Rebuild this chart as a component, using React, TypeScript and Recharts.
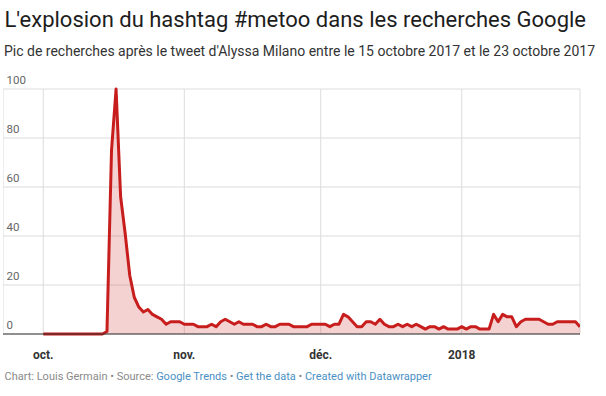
import React from "react";
import { AreaChart, Area, XAxis, YAxis, CartesianGrid } from "recharts";

// Google Trends interest, one value per day, from 1 October 2017
const octValues = [
  0, 0, 0, 0, 0, 0, 0, 0, 0, 0, 0, 0, 0, 0, 1, 75, 100, 56, 41, 24, 15, 11, 9, 10, 8, 7, 6, 4, 5, 5, 5,
];
const novValues = [
  4, 4, 4, 3, 3, 3, 4, 3, 5, 6, 5, 4, 5, 4, 4, 4, 3, 3, 4, 3, 3, 4, 4, 4, 3, 3, 3, 3, 4, 4,
];
const decValues = [
  4, 4, 3, 4, 4, 8, 7, 5, 3, 3, 5, 5, 4, 6, 4, 3, 3, 4, 3, 4, 3, 4, 3, 2, 3, 3, 2, 3, 2, 2, 2,
];
const janValues = [
  3, 2, 3, 3, 2, 2, 2, 8, 5, 8, 7, 7, 3, 5, 6, 6, 6, 6, 5, 4, 4, 5, 5, 5, 5, 5, 3,
];
const values = [...octValues, ...novValues, ...decValues, ...janValues];

const monthTicks = [0, 31, 61, 92];
const monthLabels = ["oct.", "nov.", "déc.", "2018"];
const yTicks = [0, 20, 40, 60, 80, 100];

const data = values.map((v, i) => ({ day: i, value: v }));

const FONT = "Roboto, 'Noto Sans', sans-serif";

const YTick = (props: any) => {
  const { y, payload } = props;
  return (
    <text x={3.5} y={y - 5.5} fill="#666" fontSize={11.5} fontFamily={FONT} textAnchor="start">
      {payload.value}
    </text>
  );
};

const XTick = (props: any) => {
  const { x, y, payload } = props;
  const idx = monthTicks.indexOf(payload.value);
  return (
    <text x={x} y={y + 25} fill="#333" fontSize={12} fontWeight={700} fontFamily={FONT} textAnchor="middle">
      {idx >= 0 ? monthLabels[idx] : ""}
    </text>
  );
};

export default function App() {
  const grey = "#8a8a8a";
  const blue = "#4a90c4";
  return (
    <div style={{ position: "absolute", left: 0, top: 0, width: 606, height: 396, background: "#fff", fontFamily: FONT }}>
      <div
        style={{
          position: "absolute",
          left: 4.5,
          top: 8.8,
          fontSize: 22,
          lineHeight: "22px",
          color: "#1d1d1d",
          whiteSpace: "nowrap",
        }}
      >
        L'explosion du hashtag #metoo dans les recherches Google
      </div>
      <div
        style={{
          position: "absolute",
          left: 4,
          top: 44.2,
          fontSize: 14,
          lineHeight: "14px",
          color: "#333",
          whiteSpace: "nowrap",
        }}
      >
        Pic de recherches après le tweet d'Alyssa Milano entre le 15 octobre 2017 et le 23 octobre 2017
      </div>
      <div style={{ position: "absolute", left: 3, top: 66 }}>
        <AreaChart width={580} height={304} data={data} margin={{ top: 23, right: 3, left: -1, bottom: 0 }}>
          <CartesianGrid stroke="#dcdcdc" strokeWidth={1} />
          <XAxis
            dataKey="day"
            type="number"
            domain={[-8.86, 118]}
            ticks={monthTicks}
            interval={0}
            height={36}
            axisLine={{ stroke: "#333", strokeWidth: 1 }}
            tickLine={false}
            tickSize={0}
            tickMargin={0}
            tick={<XTick />}
            allowDataOverflow
          />
          <YAxis
            width={1}
            domain={[0, 100]}
            ticks={yTicks}
            interval={0}
            axisLine={false}
            tickLine={false}
            tick={<YTick />}
          />
          <Area
            type="linear"
            dataKey="value"
            stroke="#c71e1d"
            strokeWidth={3}
            strokeLinejoin="round"
            fill="#c71e1d"
            fillOpacity={0.2}
            dot={false}
            activeDot={false}
            isAnimationActive={false}
          />
        </AreaChart>
      </div>
      <div
        style={{
          position: "absolute",
          left: 4.5,
          top: 370.7,
          fontSize: 11,
          lineHeight: "11px",
          color: grey,
          whiteSpace: "nowrap",
        }}
      >
        <span>Chart: Louis Germain</span>
        <span> • </span>
        <span>Source: </span>
        <span style={{ color: blue }}>Google Trends</span>
        <span> • </span>
        <span style={{ color: blue }}>Get the data</span>
        <span> • </span>
        <span style={{ color: blue }}>Created with Datawrapper</span>
      </div>
    </div>
  );
}
